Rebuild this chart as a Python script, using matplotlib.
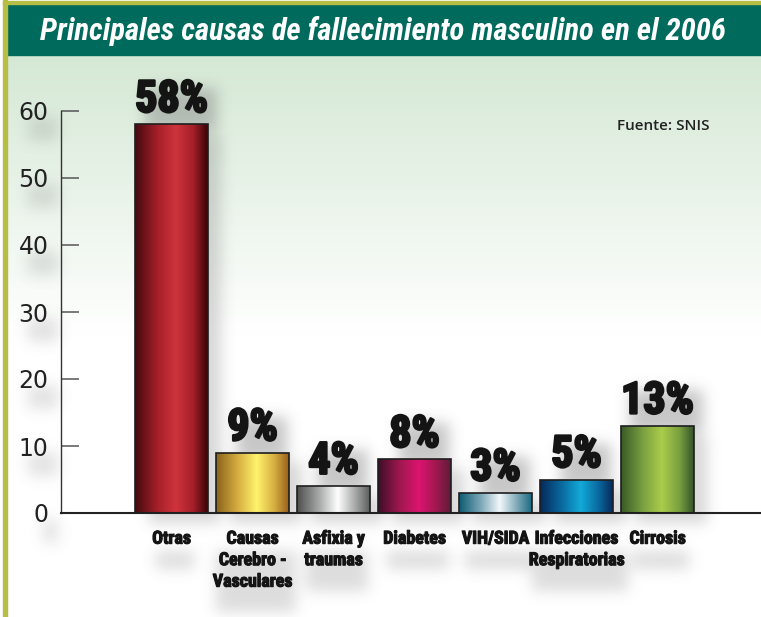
import numpy as np
import matplotlib
matplotlib.use("Agg")
import matplotlib.pyplot as plt
from matplotlib import font_manager as fm
from matplotlib.colors import LinearSegmentedColormap
from matplotlib.patches import Rectangle
from matplotlib import patheffects as pe

categories = ["Otras", "Causas\nCerebro -\nVasculares", "Asfixia y\ntraumas", "Diabetes",
              "VIH/SIDA", "Infecciones\nRespiratorias", "Cirrosis"]
values = [58, 9, 4, 8, 3, 5, 13]
value_labels = ["58%", "9%", "4%", "8%", "3%", "5%", "13%"]
yticks = [0, 10, 20, 30, 40, 50, 60]
title = "Principales causas de fallecimiento masculino en el 2006"
source = "Fuente: SNIS"

# left edge, middle, highlight, right edge of each cylinder
bar_colors = [
    ("#420a0e", "#a41f29", "#cf333c", "#380307"),
    ("#88621a", "#d6ae42", "#fff36c", "#9a5f1a"),
    ("#4e4e4e", "#a6a8a8", "#ffffff", "#5a605e"),
    ("#3e0e28", "#a0184f", "#dc1470", "#5c1c3a"),
    ("#0e5a72", "#7ca8b8", "#f2f8fa", "#1a6a7e"),
    ("#06285a", "#0a6aa0", "#12aad8", "#062a5c"),
    ("#385a26", "#7aa040", "#aacd4a", "#34542a"),
]

W, H = 761, 617


def narrow_font():
    # look for a condensed face among what is installed
    entries = fm.fontManager.ttflist
    names = {f.name for f in entries}
    for n in ["Liberation Sans Narrow", "Roboto Condensed", "Open Sans Condensed",
              "DejaVu Sans Condensed", "Noto Sans Condensed"]:
        if n in names:
            return dict(family=[n, "DejaVu Sans"])
    for f in entries:
        if f.name == "DejaVu Sans" and "condensed" in str(f.stretch):
            return dict(family=["DejaVu Sans"], stretch="condensed")
    for f in entries:
        if "Condensed" in f.name or "Narrow" in f.name:
            return dict(family=[f.name, "DejaVu Sans"])
    return dict(family=["Roboto", "DejaVu Sans"])


NARROW = narrow_font()

fig = plt.figure(figsize=(W / 100, H / 100), dpi=100)

# background layer in pixel units (y downwards)
bg = fig.add_axes([0, 0, 1, 1], zorder=0)
bg.set_xlim(0, W)
bg.set_ylim(H, 0)
bg.axis("off")

top_c = np.array([0.835, 0.91, 0.835])
t = np.clip(np.linspace(0, 1, 300) / 0.5, 0, 1)[:, None]
grad = top_c * (1 - t) + np.ones(3) * t
bg.imshow(grad[:, None, :], extent=[7, W, H, 55], aspect="auto", zorder=0)
bg.add_patch(Rectangle((7, 4), W - 7, 51, color="#006b5d", zorder=2))
bg.add_patch(Rectangle((3, 0), 4, H, color="#b7bd45", zorder=3))
bg.add_patch(Rectangle((3, 1), W, 3, color="#b7bd45", zorder=3))
title_txt = bg.text(383, 31, title, ha="center", va="center", color="white",
                    fontsize=20, fontweight="bold", style="italic", zorder=4, **NARROW)

# main chart
ax = fig.add_axes([61 / W, (H - 513) / H, 700 / W, 402 / H], zorder=1)
ax.patch.set_visible(False)
x = np.arange(len(values))
rects = ax.bar(x, values, width=0.9, facecolor="none", edgecolor="#1e1e1e",
               linewidth=1.2, zorder=3)

for r, cols in zip(rects, bar_colors):
    cmap = LinearSegmentedColormap.from_list(
        "c", [(0, cols[0]), (0.3, cols[1]), (0.56, cols[2]), (0.8, cols[1]), (1, cols[3])])
    row = cmap(np.linspace(0, 1, 256))[None, :, :]
    im = ax.imshow(row, extent=[r.get_x(), r.get_x() + r.get_width(), 0, r.get_height()],
                   aspect="auto", zorder=2, interpolation="bilinear")
    im.set_clip_path(r)

val_texts = []
for xi, v, lab in zip(x, values, value_labels):
    tx = ax.annotate(lab, (xi, v), xytext=(0, 9), textcoords="offset points",
                     ha="center", va="baseline", fontsize=30, fontweight="bold",
                     color="#141414", annotation_clip=False,
                     path_effects=[pe.withStroke(linewidth=1.8, foreground="#141414")],
                     **NARROW)
    val_texts.append(tx)

ax.set_xlim(-1.364, 7.278)
ax.set_ylim(0, 60)
ax.set_yticks(yticks)
ax.set_xticks(x)
ax.set_xticklabels(categories, fontsize=12.5, fontweight="bold",
                   color="#141414", linespacing=1.25, **NARROW)
for lab in ax.get_xticklabels():
    lab.set_path_effects([pe.withStroke(linewidth=0.8, foreground="#141414")])
ax.tick_params(axis="x", length=0, pad=12)
ax.tick_params(axis="y", direction="in", length=13, width=1.1, color="#555555",
               labelsize=17, labelcolor="#222222", pad=9)
for s in ["top", "right"]:
    ax.spines[s].set_visible(False)
ax.spines["left"].set_color("#333333")
ax.spines["left"].set_linewidth(1.0)
ax.spines["bottom"].set_color("#222222")
ax.spines["bottom"].set_linewidth(1.5)

ax.text(0.794, 0.953, source, transform=ax.transAxes, fontsize=11,
        family=["Open Sans", "DejaVu Sans"], fontweight="semibold", color="#222222")

fig.canvas.draw()
renderer = fig.canvas.get_renderer()


def fit_width(texts, ref, target):
    k = target / ref.get_window_extent(renderer).width
    for tx in texts:
        tx.set_fontsize(tx.get_fontsize() * k)


# scale texts to the widths they take in the original
fit_width([title_txt], title_txt, 687)
fit_width(val_texts, val_texts[0], 73)
xl = ax.get_xticklabels()
fit_width(xl, xl[5], 96)

# soft drop shadows, built from the drawn artists
fig.canvas.draw()
mask = np.zeros((H, W))


def add_box(bb, dx, dy, w=1.0):
    x0, x1 = int(bb.x0 + dx), int(bb.x1 + dx)
    r0, r1 = int(H - (bb.y1 + dy)), int(H - (bb.y0 + dy))
    x0, x1 = max(x0, 0), min(x1, W)
    r0, r1 = max(r0, 0), min(r1, H)
    if x1 > x0 and r1 > r0:
        mask[r0:r1, x0:x1] = np.maximum(mask[r0:r1, x0:x1], w)


for r in rects:
    add_box(r.get_window_extent(renderer), 14, -10, 0.7)
for tx in val_texts:
    add_box(tx.get_window_extent(renderer), 10, -10)
for lab in ax.get_xticklabels():
    add_box(lab.get_window_extent(renderer), 4, -22, 0.6)
for lab in ax.get_yticklabels():
    add_box(lab.get_window_extent(renderer), 10, -16, 0.5)


def blur(a, s):
    rad = int(3 * s)
    k = np.exp(-0.5 * (np.arange(-rad, rad + 1) / s) ** 2)
    k /= k.sum()
    a = np.apply_along_axis(lambda v: np.convolve(v, k, mode="same"), 0, a)
    a = np.apply_along_axis(lambda v: np.convolve(v, k, mode="same"), 1, a)
    return a


mask = blur(mask, 7)
shadow = np.zeros((H, W, 4))
shadow[..., :3] = 0.45
shadow[..., 3] = mask * 0.4
shadow[:56, :, 3] = 0
bg.imshow(shadow, extent=[0, W, H, 0], aspect="auto", zorder=1, interpolation="nearest")

fig.savefig("out.png", dpi=100)
